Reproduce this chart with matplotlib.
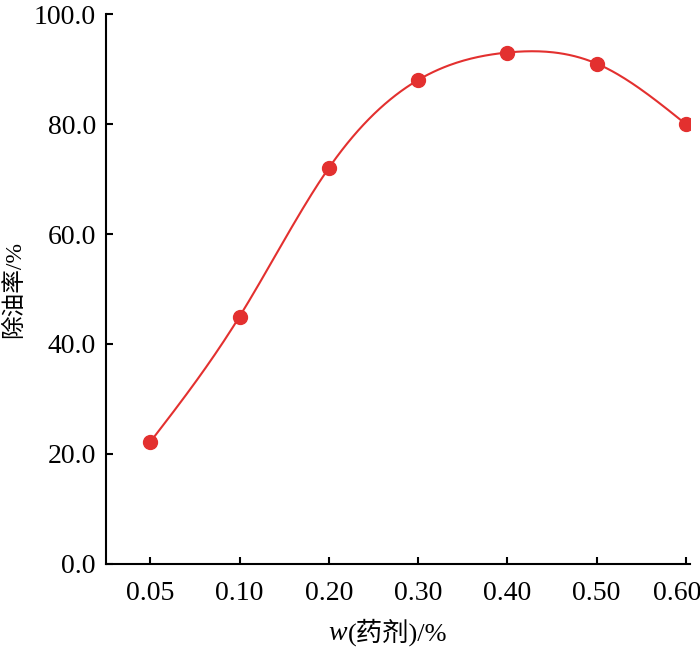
import numpy as np
import matplotlib
matplotlib.use('Agg')
import matplotlib.pyplot as plt
import matplotlib.transforms as mtransforms

# 数据
dose_labels = ['0.05', '0.10', '0.20', '0.30', '0.40', '0.50', '0.60']
removal_rate = [22.2, 45.0, 72.0, 88.0, 93.0, 91.0, 80.0]
y_ticks = [0, 20, 40, 60, 80, 100]


def natural_spline(x, y, xs):
    """自然三次样条, 只用于画平滑曲线"""
    x = np.asarray(x, float)
    y = np.asarray(y, float)
    n = len(x)
    h = np.diff(x)
    A = np.zeros((n, n))
    b = np.zeros(n)
    A[0, 0] = A[-1, -1] = 1
    for i in range(1, n - 1):
        A[i, i - 1] = h[i - 1]
        A[i, i] = 2 * (h[i - 1] + h[i])
        A[i, i + 1] = h[i]
        b[i] = 6 * ((y[i + 1] - y[i]) / h[i] - (y[i] - y[i - 1]) / h[i - 1])
    M = np.linalg.solve(A, b)
    idx = np.clip(np.searchsorted(x, xs) - 1, 0, n - 2)
    x0, x1 = x[idx], x[idx + 1]
    hh = x1 - x0
    t0, t1 = x1 - xs, xs - x0
    return (M[idx] * t0**3 / (6 * hh) + M[idx + 1] * t1**3 / (6 * hh)
            + (y[idx] / hh - M[idx] * hh / 6) * t0
            + (y[idx + 1] / hh - M[idx + 1] * hh / 6) * t1)


serif = ['Liberation Serif', 'Noto Sans CJK SC']
plt.rcParams['font.family'] = serif

fig = plt.figure(figsize=(7, 6.69), dpi=100)
ax = fig.add_axes([0.151, 0.157, 0.835, 0.822])

pos = np.arange(len(dose_labels))
xs = np.linspace(pos[0], pos[-1], 300)
red = '#e3302f'
ax.plot(xs, natural_spline(pos, removal_rate, xs), color=red, linewidth=1.5)
ax.plot(pos, removal_rate, 'o', color=red, markersize=10)

ax.set_xlim(-0.5, 6.05)
ax.set_ylim(0, 100)
ax.set_xticks(pos)
ax.set_xticklabels(dose_labels)
ax.set_yticks(y_ticks)
ax.set_yticklabels([f'{v:.1f}' for v in y_ticks])
ax.tick_params(direction='in', length=5, width=1.5, labelsize=20, pad=7)
ax.tick_params(axis='x', pad=12)

# 最后一个刻度标签稍微左移, 以免超出画布
last = ax.get_xticklabels()[-1]
last.set_transform(last.get_transform() +
                   mtransforms.ScaledTranslation(-9 / 100, 0, fig.dpi_scale_trans))

for s in ['top', 'right']:
    ax.spines[s].set_visible(False)
for s in ['left', 'bottom']:
    ax.spines[s].set_linewidth(1.5)

ax.set_ylabel('除油率/%', fontsize=17)
ax.yaxis.set_label_coords(-0.138, 0.5)

# 横轴标题: 斜体 w + 其余文字
wt = fig.text(0.495, 0.043, 'w', fontsize=20, style='italic', family=serif,
              ha='right', va='baseline')
ax.annotate('(药剂)/%', xy=(1, 0), xycoords=wt, xytext=(1, 0),
            textcoords='offset points', fontsize=19, family=serif,
            ha='left', va='bottom')

plt.savefig('out.png', dpi=100)
